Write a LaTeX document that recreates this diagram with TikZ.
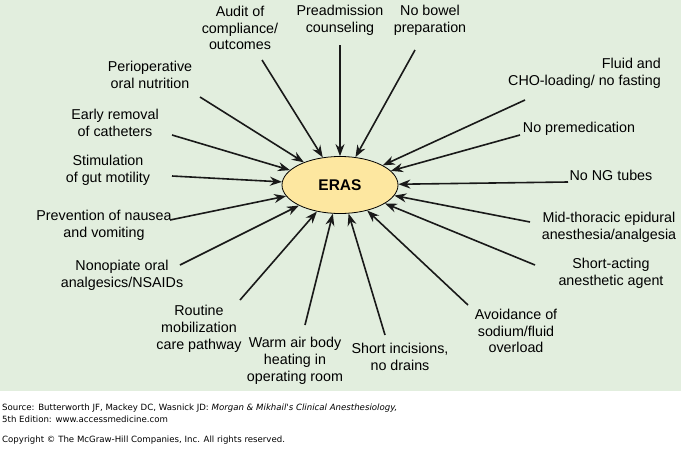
\documentclass[tikz,border=0pt]{standalone}
\usepackage{fontspec}
\setmainfont{Liberation Sans}
\newfontfamily\footfont{DejaVu Sans}
\usetikzlibrary{arrows.meta,shapes.geometric}
\begin{document}
\begin{tikzpicture}[x=1pt,y=-1pt,
  lab/.style={font=\fontsize{14.3}{16.8}\selectfont,align=center,inner sep=0pt},
  arr/.style={-{Stealth[length=12pt,width=9pt]},line width=1.6pt,draw=black!90}]
\useasboundingbox (0,0) rectangle (681,456);
\fill[fill={rgb,255:red,226;green,238;blue,222}] (0,0) rectangle (681,391);
\node[ellipse,draw,line width=0.8pt,fill={rgb,255:red,253;green,231;blue,160},minimum width=116pt,minimum height=57pt] (e) at (340,185) {};
\node[font=\fontsize{15.5}{18}\selectfont\bfseries] at (e) {ERAS};
\node[lab] (n1) at (240,28) {Audit of\\compliance/\\outcomes};
\node[lab] (n2) at (340,20) {Preadmission\\counseling};
\node[lab] (n3) at (430,20) {No bowel\\preparation};
\node[lab,align=right,anchor=east] (n4) at (661,73) {Fluid and\\CHO-loading/ no fasting};
\node[lab] (n5) at (579,129) {No premedication};
\node[lab] (n6) at (611,175) {No NG tubes};
\node[lab] (n7) at (609,227) {Mid-thoracic epidural\\anesthesia/analgesia};
\node[lab] (n8) at (611,273) {Short-acting\\anesthetic agent};
\node[lab] (n9) at (516,331) {Avoidance of\\sodium/fluid\\overload};
\node[lab] (n10) at (400,357) {Short incisions,\\no drains};
\node[lab] (n11) at (295,361) {Warm air body\\heating in\\operating room};
\node[lab] (n12) at (199,329) {Routine\\mobilization\\care pathway};
\node[lab] (n13) at (122,275) {Nonopiate oral\\analgesics/NSAIDs};
\node[lab] (n14) at (104,225) {Prevention of nausea\\and vomiting};
\node[lab] (n15) at (108,170) {Stimulation\\of gut motility};
\node[lab] (n16) at (115,123) {Early removal\\of catheters};
\node[lab] (n17) at (150,75) {Perioperative\\oral nutrition};
\foreach \i/\x/\y in {1/262/60, 2/340/45, 3/415/50, 4/525/100, 5/520/135, 6/568/182, 7/530/222, 8/535/265, 9/468/305, 10/385/335, 11/305/325, 12/240/300, 13/180/265, 14/170/220, 15/172/176, 16/172/135, 17/200/97}
  \coordinate (t\i) at (\x,\y);
\foreach \i in {1,...,17} \draw[arr] (t\i) -- (e);
\node[font=\footfont\fontsize{8.6}{11.5}\selectfont,align=left,anchor=north west,inner sep=0pt] (s) at (2,404) {Source: Butterworth JF, Mackey DC, Wasnick JD: \textit{Morgan \& Mikhail's Clinical Anesthesiology,}\\5th Edition: www.accessmedicine.com};
\node[font=\footfont\fontsize{8.6}{11}\selectfont,anchor=north west,inner sep=0pt] (c) at (2,436) {Copyright © The McGraw-Hill Companies, Inc. All rights reserved.};
\end{tikzpicture}
\end{document}
